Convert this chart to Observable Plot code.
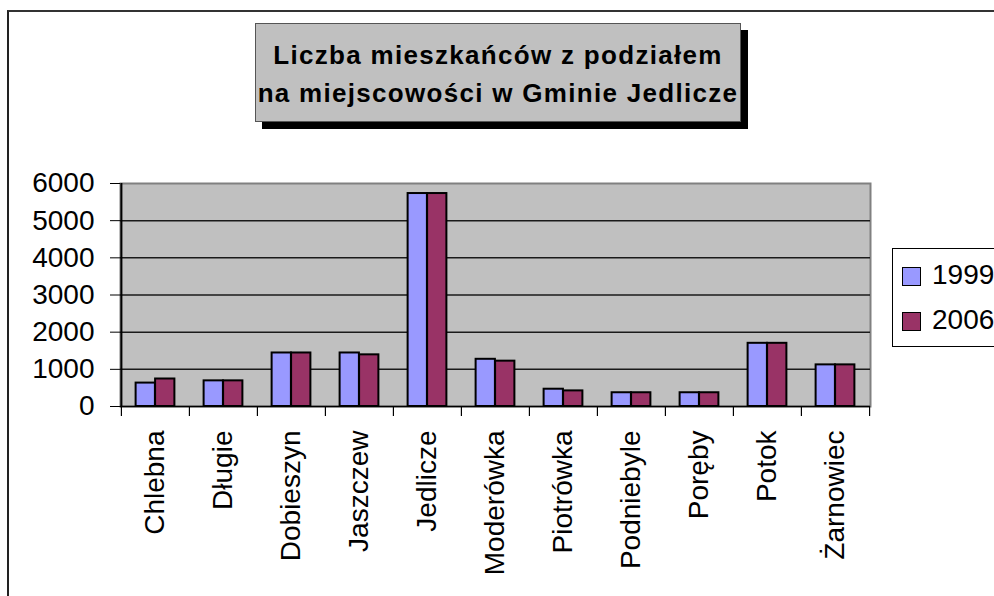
<!DOCTYPE html>
<html>
<head>
<meta charset="utf-8">
<script src="https://cdn.jsdelivr.net/npm/d3@7"></script>
<script src="https://cdn.jsdelivr.net/npm/@observablehq/plot@0.6"></script>
<style>
  html, body { margin: 0; padding: 0; background: #fff; overflow: hidden; }
  #wrap { position: relative; width: 994px; height: 596px; overflow: hidden; font-family: "Liberation Sans", Arial, sans-serif; }
  #outer { position: absolute; left: 7px; top: 10px; width: 2000px; height: 2000px; border-left: 2px solid #222; border-top: 2px solid #333; }
  #chart { position: absolute; left: 0; top: 0; }
  #title { position: absolute; left: 255px; top: 23px; width: 486px; height: 99px; background: #c0c0c0; border: 1px solid #555; box-shadow: 7px 7px 0 #000; text-align: center; font-family: "Liberation Sans", Arial, sans-serif; font-weight: bold; font-size: 26px; letter-spacing: 1.3px; line-height: 38px; padding-top: 12px; box-sizing: border-box; color: #000; }
  #legend { position: absolute; left: 892px; top: 248px; width: 200px; height: 97px; border: 1px solid #000; background: #fff; }
  .item { position: absolute; left: 9px; font-size: 28px; line-height: 28px; color: #000; }
  .sw { display: inline-block; width: 17px; height: 17px; border: 1px solid #000; vertical-align: top; margin-top: 6px; margin-right: 11px; }
</style>
</head>
<body>
<div id="wrap">
  <div id="outer"></div>
  <div id="chart"></div>
  <div id="title"></div>
  <div id="legend"></div>
</div>
<script>
const titleLines = ["Liczba mieszkańców z podziałem", "na miejscowości w Gminie Jedlicze"];
const categories = ["Chlebna", "Długie", "Dobieszyn", "Jaszczew", "Jedlicze", "Moderówka", "Piotrówka", "Podniebyle", "Poręby", "Potok", "Żarnowiec"];
const values1999 = [630, 690, 1440, 1440, 5730, 1270, 465, 370, 370, 1700, 1120];
const values2006 = [740, 690, 1440, 1390, 5730, 1220, 420, 370, 370, 1700, 1120];
const seriesNames = ["1999", "2006"];
const seriesColors = ["#9999ff", "#993366"];
const yTicks = [0, 1000, 2000, 3000, 4000, 5000, 6000];
const gridValues = [1000, 2000, 3000, 4000, 5000];

const W = 994, H = 596, mL = 120, mR = 124, mT = 183, mB = 190;
const step = (W - mL - mR) / categories.length;
const barW = step / 3.5;
const gap = (step - 2 * barW) / 2;

const rows1999 = categories.map((c, i) => ({cat: c, v: values1999[i]}));
const rows2006 = categories.map((c, i) => ({cat: c, v: values2006[i]}));

const plot = Plot.plot({
  width: W, height: H,
  marginLeft: mL, marginRight: mR, marginTop: mT, marginBottom: mB,
  style: {fontFamily: '"Liberation Sans", Arial, sans-serif', fontSize: "28px", color: "#000", background: "transparent", overflow: "visible"},
  x: {domain: categories, padding: 0, label: null},
  y: {domain: [0, 6000], label: null},
  marks: [
    Plot.frame({fill: "#c0c0c0", stroke: "#808080", strokeWidth: 2}),
    Plot.ruleY(gridValues, {stroke: "#1a1a1a", strokeWidth: 1.5}),
    Plot.barY(rows1999, {x: "cat", y: "v", fill: seriesColors[0], stroke: "#000", strokeWidth: 2, insetLeft: gap, insetRight: gap + barW}),
    Plot.barY(rows2006, {x: "cat", y: "v", fill: seriesColors[1], stroke: "#000", strokeWidth: 2, insetLeft: gap + barW, insetRight: gap}),
    Plot.ruleY([0], {stroke: "#000", strokeWidth: 1.5}),
    Plot.ruleX([categories[0]], {dx: -step / 2, stroke: "#000", strokeWidth: 2}),
    Plot.ruleX(categories, {dx: -step / 2, y1: 0, y2: 0, insetBottom: -10, stroke: "#000", strokeWidth: 1.2}),
    Plot.ruleX([categories[categories.length - 1]], {dx: step / 2, y1: 0, y2: 0, insetBottom: -10, stroke: "#000", strokeWidth: 1.2}),
    Plot.axisY({ticks: yTicks, tickFormat: d => String(d), tickSize: 10, tickPadding: 16, fontSize: 28, label: null, stroke: "#000"}),
    Plot.axisX({tickSize: 0, tickPadding: 24, tickRotate: -90, fontSize: 28, label: null})
  ]
});
document.getElementById("chart").appendChild(plot);

const t = document.getElementById("title");
titleLines.forEach(s => { const d = document.createElement("div"); d.textContent = s; t.appendChild(d); });

const lg = document.getElementById("legend");
seriesNames.forEach((s, i) => {
  const d = document.createElement("div");
  d.className = "item";
  d.style.top = (12 + i * 45) + "px";
  const sw = document.createElement("span");
  sw.className = "sw";
  sw.style.background = seriesColors[i];
  d.appendChild(sw);
  d.appendChild(document.createTextNode(s));
  lg.appendChild(d);
});
</script>
</body>
</html>
